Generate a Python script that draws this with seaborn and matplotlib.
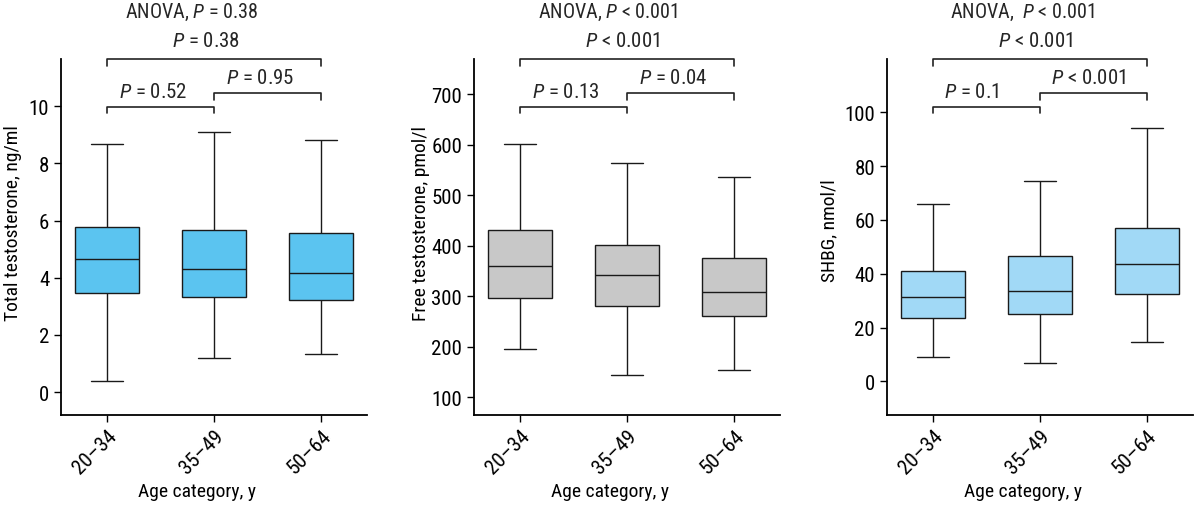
import numpy as np
import pandas as pd
import seaborn as sns
import matplotlib.pyplot as plt
from matplotlib import transforms

age_groups = ["20–34", "35–49", "50–64"]

# box stats per age group: lower whisker, Q1, median, Q3, upper whisker
total_low = [0.40, 1.18, 1.34]
total_q1 = [3.46, 3.33, 3.22]
total_med = [4.67, 4.32, 4.18]
total_q3 = [5.77, 5.68, 5.58]
total_high = [8.68, 9.08, 8.82]

free_low = [196, 145, 155]
free_q1 = [297, 281, 262]
free_med = [360, 343, 308]
free_q3 = [432, 402, 375]
free_high = [601, 564, 537]

shbg_low = [8.9, 6.7, 14.6]
shbg_q1 = [23.5, 25.0, 32.3]
shbg_med = [31.2, 33.5, 43.5]
shbg_q3 = [40.9, 46.5, 57.0]
shbg_high = [65.8, 74.5, 94.0]

ylabels = ["Total testosterone, ng/ml", "Free testosterone, pmol/l", "SHBG, nmol/l"]
anova_labels = ["ANOVA, $P$ = 0.38", "ANOVA, $P$ < 0.001", "ANOVA,  $P$ < 0.001"]
p_01 = ["$P$ = 0.52", "$P$ = 0.13", "$P$ = 0.1"]
p_12 = ["$P$ = 0.95", "$P$ = 0.04", "$P$ < 0.001"]
p_02 = ["$P$ = 0.38", "$P$ < 0.001", "$P$ < 0.001"]

colors = ["#5bc4f0", "#c8c8c8", "#a1d9f6"]
ylims = [(-0.8, 11.65), (65, 770), (-12.5, 119.8)]
yticks = [np.arange(0, 11, 2), np.arange(100, 701, 100), np.arange(0, 101, 20)]
ylabel_pos = [(-0.127, 0.543), (-0.143, 0.541), (-0.159, 0.522)]


def box_frame(low, q1, med, q3, high):
    # five values per group -> quartiles land exactly on q1/med/q3
    rows = []
    for g, vals in zip(age_groups, zip(low, q1, med, q3, high)):
        for v in vals:
            rows.append((g, v))
    return pd.DataFrame(rows, columns=["age", "value"])


frames = [
    box_frame(total_low, total_q1, total_med, total_q3, total_high),
    box_frame(free_low, free_q1, free_med, free_q3, free_high),
    box_frame(shbg_low, shbg_q1, shbg_med, shbg_q3, shbg_high),
]

sns.set_style("ticks")
plt.rcParams["font.family"] = ["Roboto Condensed", "Archivo Narrow", "DejaVu Sans"]
plt.rcParams["mathtext.fontset"] = "custom"
plt.rcParams["mathtext.it"] = "Roboto Condensed:italic"
plt.rcParams["mathtext.rm"] = "Roboto Condensed"

fig = plt.figure(figsize=(11.94, 5.06), dpi=100)
lefts = [61, 474, 886.7]
W, H = 1194, 506

for i in range(3):
    ax = fig.add_axes([lefts[i] / W, 1 - 416 / H, 306 / W, 356 / H])
    sns.boxplot(data=frames[i], x="age", y="value", order=age_groups,
                color=colors[i], saturation=1, whis=(0, 100), width=0.6,
                linecolor="#1a1a1a", linewidth=1.0, showfliers=False, ax=ax)
    ax.set_xlim(-0.43, 2.43)
    ax.set_ylim(*ylims[i])
    ax.set_yticks(yticks[i])
    sns.despine(ax=ax)
    for s in ["left", "bottom"]:
        ax.spines[s].set_linewidth(1.3)
        ax.spines[s].set_color("black")
    ax.tick_params(axis="both", labelsize=15, length=5, width=1, color="black",
                   labelcolor="black")
    ax.tick_params(axis="x", pad=3)
    for lab in ax.get_xticklabels():
        lab.set_rotation(45)
        lab.set_ha("right")
        lab.set_va("top")
        lab.set_rotation_mode("anchor")
    ax.set_ylabel(ylabels[i], fontsize=14, color="black")
    ax.yaxis.set_label_coords(*ylabel_pos[i])
    ax.set_xlabel("Age category, y", fontsize=14, color="black")
    ax.xaxis.set_label_coords(0.444, -0.213)
    ax.xaxis.label.set_va("center")

    trans = transforms.blended_transform_factory(ax.transData, ax.transAxes)
    d = 0.019
    for (x0, x1, yb, txt) in [(0, 1, 0.866, p_01[i]), (1, 2, 0.904, p_12[i])]:
        ax.plot([x0, x0, x1, x1], [yb - d, yb, yb, yb - d], transform=trans,
                color="#222222", lw=1.2, clip_on=False)
        ax.text(x0 + 0.11, yb + 0.043, txt, transform=trans, ha="left",
                va="center", fontsize=15)
    ax.plot([0, 0, 2, 2], [1 - d, 1, 1, 1 - d], transform=trans,
            color="#222222", lw=1.2, clip_on=False)
    ax.text(0.61, 1.051, p_02[i], transform=trans, ha="left", va="center", fontsize=15)
    ax.text(0.165, 1.135, anova_labels[i], transform=trans, ha="left",
            va="center", fontsize=14.5)

fig.savefig("out.png", dpi=100)
